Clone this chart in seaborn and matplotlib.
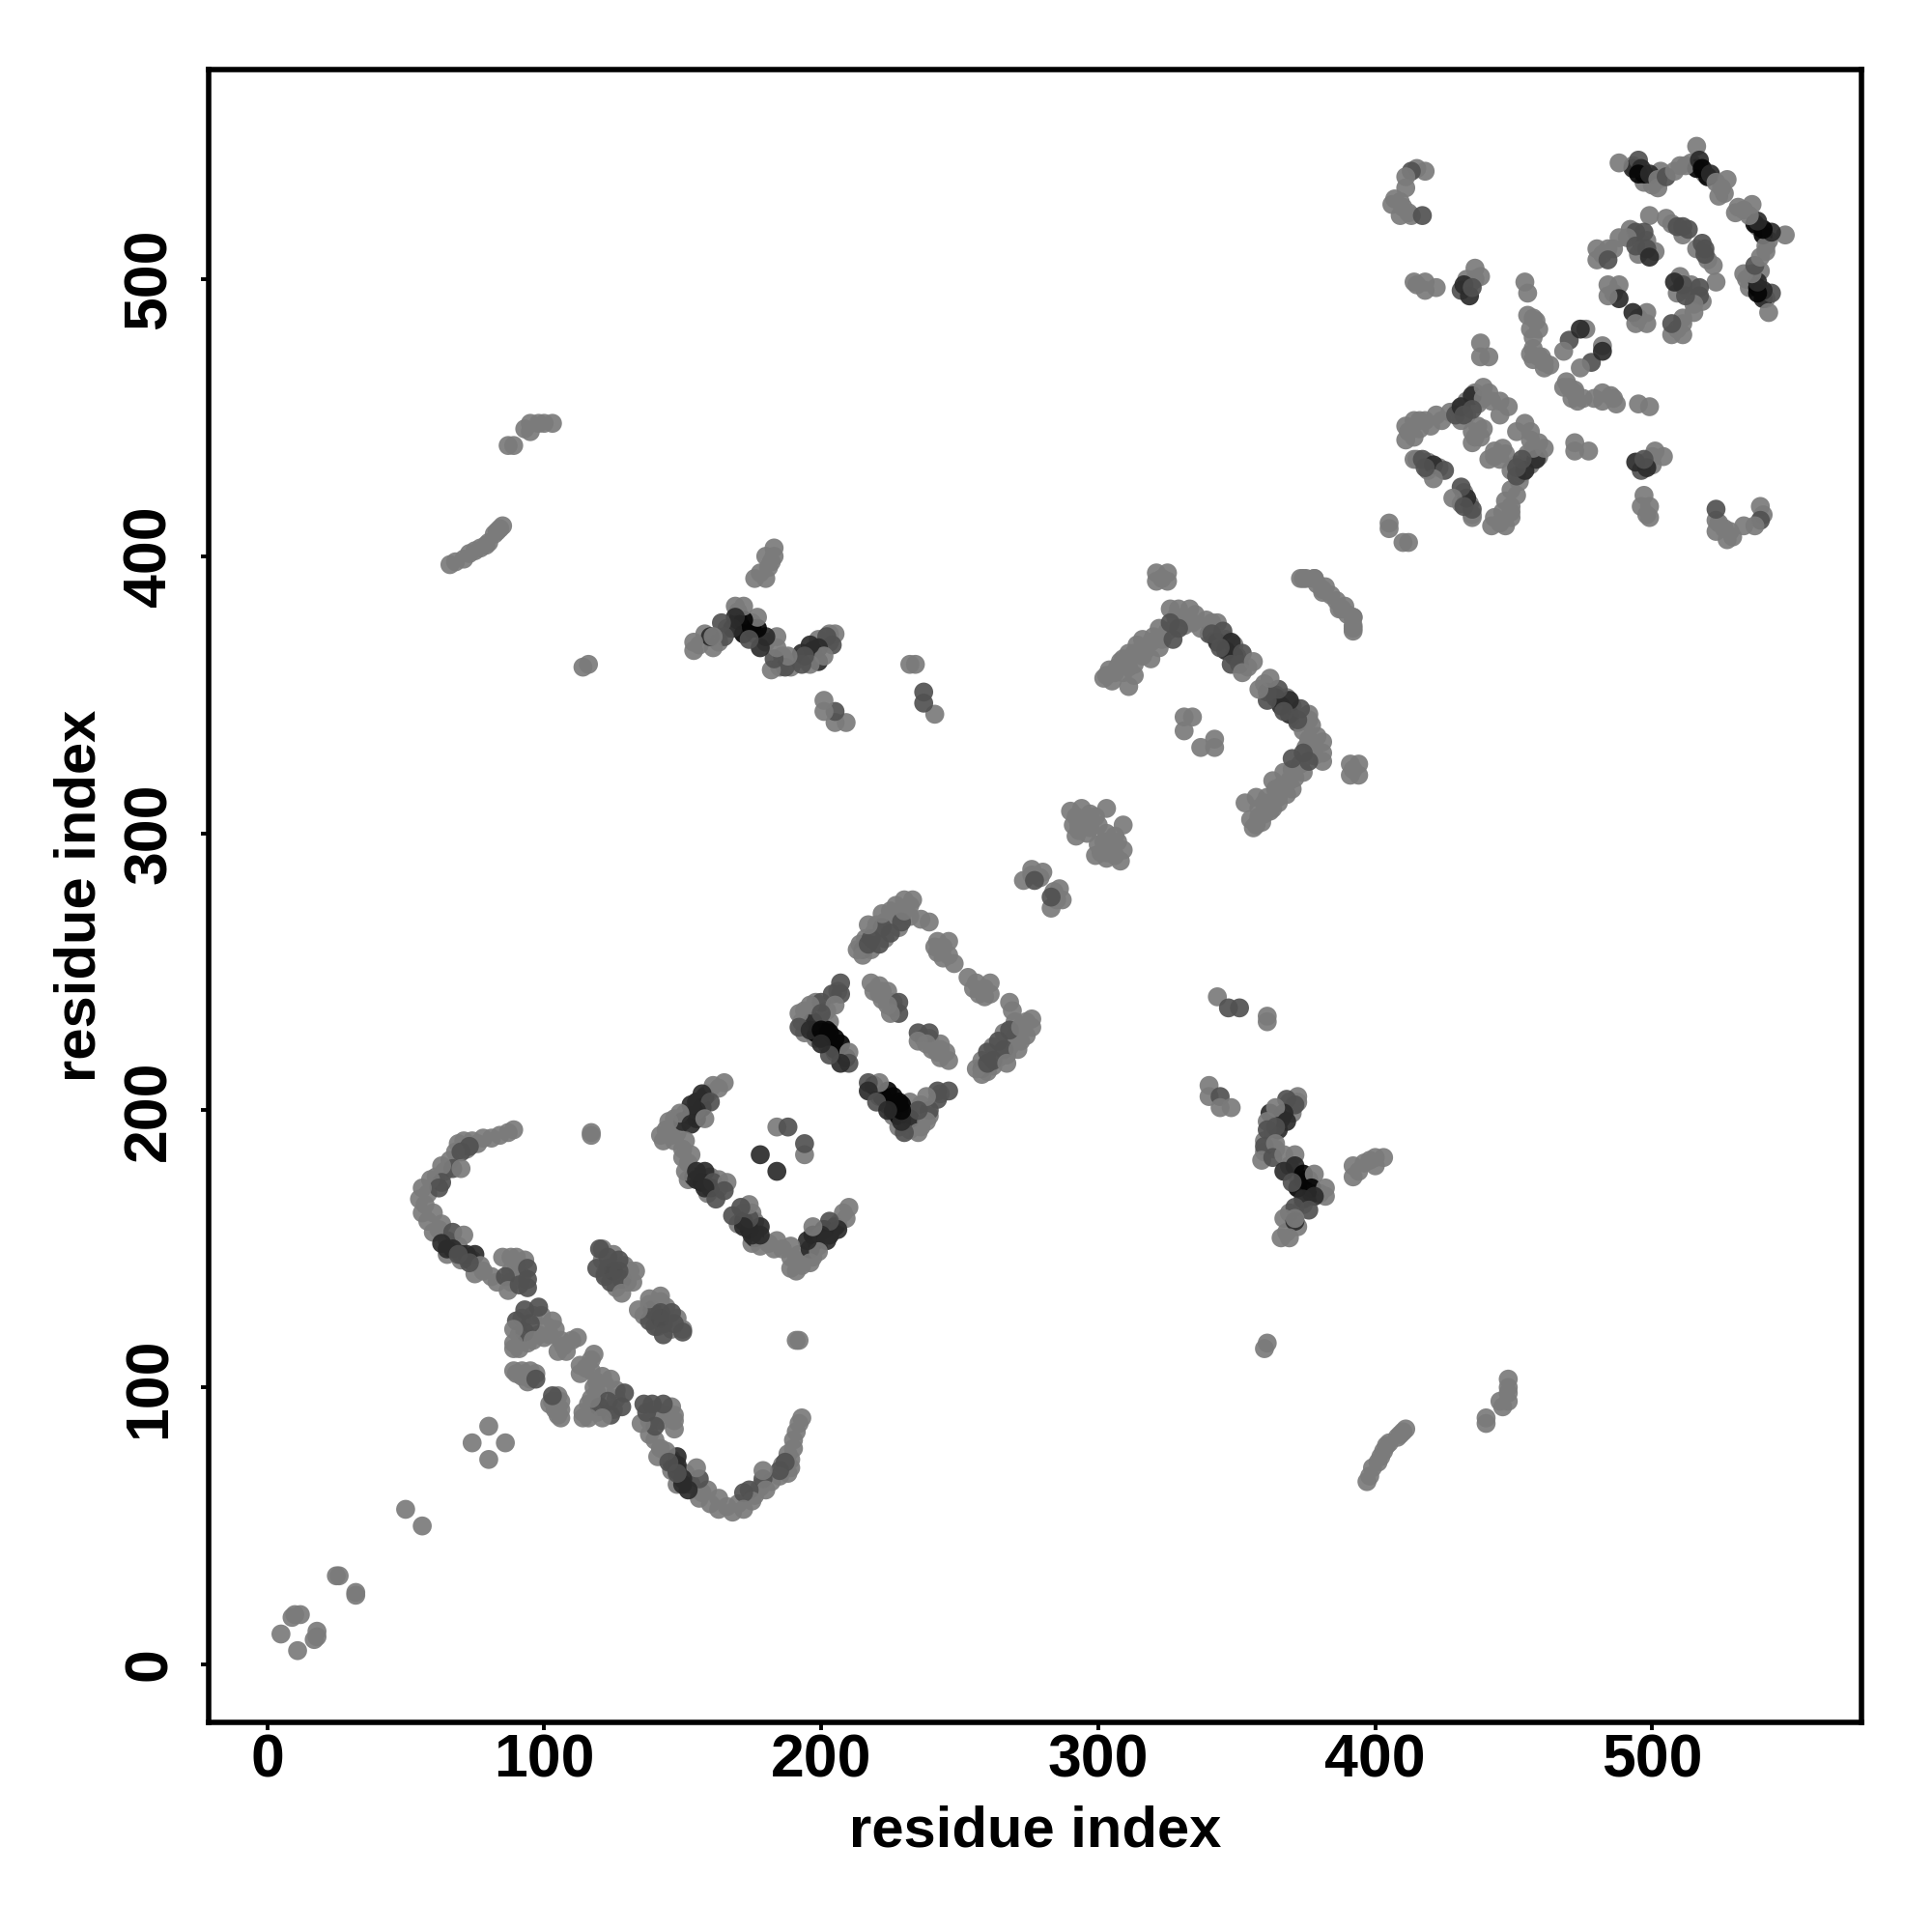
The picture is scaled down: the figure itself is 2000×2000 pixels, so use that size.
import numpy as np
import pandas as pd
import matplotlib
matplotlib.use('Agg')
import matplotlib.pyplot as plt
import seaborn as sns

# contact pairs, i < j only (the map is symmetric)
# n = shade level of the dot, 1 light grey ... 4 nearly black
fill_i = [64,66,72,76,69,61,58,57,58,62,65,69,65,70,74,78,83,88,90,88,92,93,88,121,122,125,130,126,129,131,121,125,129,91,94,99,101,98,100,92,96,108,110,102,91,90,93,97,95,163,159,155,151,147,144,148,143,150,146,152,150,156,160,163,163,159,152]
fill_j = [178,182,186,188,188,176,170,166,160,157,153,151,148,146,146,142,138,142,144,138,140,146,147,146,141,143,138,136,140,142,150,148,144,119,116,126,122,119,118,125,126,113,117,119,114,105,105,105,103,208,206,203,199,197,193,192,189,186,191,181,183,176,176,172,175,170,175]
fill2_i = [214,216,219,218,220,223,227,227,232,232,228,223,241,244,244,193,194,198,202,206,194,198,202,205,209,198,203,195,219,222,226,226,222,276,279,291,293,295,297,300,297,203,203,197,192,189,185,180,176,175,170,166,163,156,158,199,186,68,75,79,83,178,182,100,93]
fill2_j = [260,262,264,258,267,268,270,274,274,270,266,262,259,259,255,232,236,239,236,243,228,226,224,221,219,232,232,233,243,243,239,237,240,285,284,303,301,305,302,303,307,372,369,364,363,360,360,369,372,376,380,374,369,368,372,370,364,398,402,404,409,394,398,448,446]
fill3_i = [304,307,309,313,314,317,320,323,325,328,331,331,335,339,343,346,349,350,354,305,309,313,316,384,390,375,323,412,416,420,424,427,433,436,437,441,442,433,430,416,436,437,415,419,423,419,431]
fill3_j = [359,360,363,365,368,366,371,370,373,378,378,375,379,377,376,370,368,364,360,355,358,357,364,386,379,392,392,445,446,447,449,452,456,459,455,459,456,451,453,449,443,447,435,431,432,434,449]
fill4_i = [407,410,412,415,433,436,434,456,458,456,459,461,415,493,497,500,503,510,514,519,525,526,496,492,495,498,486,482,486,501,497,511,507]
fill4_j = [529,526,524,540,500,500,498,482,485,473,472,470,498,541,535,534,539,541,542,538,533,531,513,518,509,514,511,509,495,510,512,516,520]

# darkest patches, drawn under the main strands
dark_i = [155,158,153,150,154,157,160,198,202,205,197,200,205,209,215,218,222,175,170,172,197,199,193,346,349,340,343,516,520,497,493,65,70,73,157,155,122,125,128]
dark_j = [203,205,198,196,176,174,172,228,229,226,232,226,222,219,258,262,266,374,377,372,366,362,365,366,364,372,369,540,537,538,540,150,148,146,201,197,140,142,139]
dark_n = [3,3,4,3,3,4,3,4,4,4,3,4,4,3,2,2,2,4,3,4,3,3,3,3,3,2,3,4,4,4,3,3,3,3,4,4,2,3,2]

arc_i = [89,87,84,81,78,74,71,73,68,70,67,70,63,63,59,62,56,55,56,60,60,63,67,71,63,67,72,75,75,77,81,85,90,94,86,94,87,91,94,73,69]
arc_j = [193,192,191,190,190,189,189,187,185,185,179,179,180,174,175,172,172,168,163,163,156,159,156,155,152,150,148,148,141,144,140,147,147,143,140,136,135,137,139,145,148]
arc_n = [1,1,1,1,1,1,1,2,1,2,2,1,1,2,1,2,1,1,1,1,1,1,2,1,3,3,3,3,1,1,1,1,1,2,2,2,1,2,2,2,2]

low_i = [5,9,10,12,25,26,50,74,80,89,92,95,92,94,97,98,93,90,95,93,89,89,89,96,103,104,106,112,105,107]
low_j = [11,17,18,18,32,32,56,80,86,106,106,106,104,102,103,129,128,124,123,120,121,116,114,117,124,121,117,118,113,115]
low_n = [1,1,1,1,1,1,1,1,1,1,1,1,1,1,2,2,2,2,2,2,1,1,1,1,1,1,1,1,1,1]

helix_i = [120,123,127,133,119,124,128,132,123,127]
helix_j = [150,147,146,142,143,138,134,138,143,142]
helix_n = [2,2,2,1,2,2,1,1,2,2]

wedge_i = [165,161,157,160,153,155,149,153,145,142,147,151,158,153,151,155,158,155,161,158,166,162,165,178,184,188,117,117]
wedge_j = [210,209,206,203,202,200,199,195,196,191,189,189,197,184,178,178,178,175,174,172,174,168,171,184,194,194,192,191]
wedge_n = [1,1,3,2,3,3,1,3,1,1,1,1,1,1,1,3,3,3,2,3,1,2,2,3,1,2,1,1]

ring_i = [213,215,217,217,221,222,225,225,229,230,233,230,236,239,242,246,242,246,248]
ring_j = [258,256,267,260,260,271,264,272,268,276,276,272,269,268,261,261,257,256,253]
ring_n = [1,1,1,2,2,1,2,1,2,1,1,1,1,1,1,1,1,1,1]

left_i = [207,207,204,200,205,196,200,192,192,196,200,203,207,210,210,207,203,200,218,221,224,221,228,228,225,224]
left_j = [246,242,242,239,238,238,235,235,230,229,229,228,224,221,217,217,220,224,246,245,243,242,239,235,235,238]
left_n = [2,2,2,2,1,1,2,1,2,3,4,4,4,1,2,3,2,3,1,1,1,1,2,2,1,1]

mid_i = [280,276,273,277,292,290,294,292,295,303,299,296,293,241,237,237,234,232,209,205,205,201,201]
mid_j = [286,287,283,283,299,308,309,306,303,309,306,300,303,343,347,351,361,361,340,340,344,344,348]
mid_n = [1,1,1,2,1,1,1,1,1,1,1,1,1,1,2,2,1,1,1,1,2,1,1]

cross_i = [205,204,202,199,201,196,196,194,193,187,188,182,183,184,184,180,178,177,174,177,172,172,169,169,168,165,164,161,160,154,161,154]
cross_j = [372,368,371,367,364,368,361,364,361,360,364,359,363,367,371,371,367,374,370,378,377,382,382,378,374,371,376,367,371,366,371,369]
cross_n = [1,2,2,3,1,3,1,2,2,2,1,1,2,1,1,3,3,4,2,1,4,1,1,3,3,2,2,1,3,1,1,1]

far_i = [180,176,181,180,183,183,114,116,66,71,73,77,80,82,84,85,87,89,95,95,98,103]
far_j = [392,392,396,400,403,400,360,361,397,399,401,403,405,408,410,411,440,440,445,448,448,448]

hook_i = [303,302,306,308,311,311,311,313,316,319,319,322,322,327,326,329,326,333,334,329,337,341,341,345,348,344,352,348,351,356,352]
hook_j = [357,356,358,362,365,360,353,361,370,363,369,367,374,370,381,381,376,381,376,374,374,376,372,373,369,367,365,361,361,362,358]
hook_n = [1,1,1,1,1,1,1,1,1,1,1,1,1,2,1,1,2,1,1,2,1,1,2,2,3,2,2,2,2,1,1]

hook2_i = [321,325,325,321,373,378,381,387,389,392,392,331,334,331,405,405]
hook2_j = [394,394,391,391,392,392,388,381,382,378,374,342,342,337,412,410]

square_i = [411,411,414,414,418,422,429,431,435,439,439,435,432,445,448,445,439,435,435,438,414,417,421,425,421,418,438,438,441]
square_j = [447,442,443,449,449,451,451,454,458,461,457,453,451,456,454,451,446,445,441,443,435,435,433,431,428,432,477,472,472]
square_n = [1,1,1,1,1,1,2,3,3,1,1,2,2,1,1,1,1,1,1,1,1,2,3,2,1,2,1,1,1]

upper_i = [418,413,411,411,406,409,409,413,417,414,418,418,422,436,438,431,432,434,435,454,455,455,457,459,457,457,457,460,463,461,470,468,476,474]
upper_j = [539,539,537,533,527,528,523,523,523,499,499,496,497,504,501,496,498,494,497,499,495,487,486,482,479,475,471,472,469,468,478,474,482,482]
upper_n = [1,2,1,1,1,1,1,1,2,1,1,1,1,1,1,2,3,3,2,1,1,1,1,1,1,1,1,1,1,1,2,1,1,3]

top_i = [488,495,496,495,499,502,502,505,508,512,516,517,518,521,523,527,524,499,494,497,488,491,484,480,480,484,494,498,499,505,509,513,511,484,488,488,484]
top_j = [542,543,540,538,538,536,533,537,539,541,548,543,540,538,535,536,530,523,517,517,515,515,511,511,507,507,512,511,508,522,519,518,519,498,498,493,494]
top_n = [1,2,3,4,3,1,1,2,1,1,1,3,4,3,1,1,1,1,2,2,1,1,1,1,1,2,2,2,3,1,2,2,2,1,1,3,1]

tick_vals = [0, 100, 200, 300, 400, 500]
shades = {1: '#7b7b7b', 2: '#515151', 3: '#2b2b2b', 4: '#050505'}

groups = [(fill_i, fill_j, [1]*len(fill_i)), (fill2_i, fill2_j, [1]*len(fill2_i)),
          (fill3_i, fill3_j, [1]*len(fill3_i)), (fill4_i, fill4_j, [1]*len(fill4_i)),
          (dark_i, dark_j, dark_n),
          (arc_i, arc_j, arc_n), (low_i, low_j, low_n), (helix_i, helix_j, helix_n),
          (wedge_i, wedge_j, wedge_n), (ring_i, ring_j, ring_n), (left_i, left_j, left_n),
          (mid_i, mid_j, mid_n), (cross_i, cross_j, cross_n), (far_i, far_j, [1]*len(far_i)),
          (hook_i, hook_j, hook_n), (hook2_i, hook2_j, [1]*len(hook2_i)), (square_i, square_j, square_n),
          (upper_i, upper_j, upper_n), (top_i, top_j, top_n)]

df = pd.concat([pd.DataFrame({'i': g[0], 'j': g[1], 'n': g[2]}) for g in groups], ignore_index=True)
# contacts go both ways
both = pd.concat([df, df.rename(columns={'i': 'j', 'j': 'i'})], ignore_index=True)

sns.set_style('white')
plt.rcParams['font.family'] = ['Liberation Sans', 'DejaVu Sans']
plt.rcParams['font.weight'] = 'bold'

fig = plt.figure(figsize=(10, 10), dpi=200)
ax = fig.add_axes([216/2000, 1 - 1783/2000, (1927 - 216)/2000, (1783 - 72)/2000])

sns.scatterplot(data=both, x='i', y='j', hue='n', palette=shades, alpha=0.92, s=50, linewidth=0, ax=ax, legend=False)

ax.set_xlim(-21.1, 575.5)
ax.set_ylim(-20.9, 575.7)
ax.set_xticks(tick_vals)
ax.set_yticks(tick_vals)
ax.set_xticklabels([str(v) for v in tick_vals], fontsize=22.5, fontweight='bold')
ax.set_yticklabels([str(v) for v in tick_vals], fontsize=22.5, fontweight='bold', rotation=90, va='center')
ax.tick_params(axis='x', length=3, width=1.4, color='black', labelcolor='black', bottom=True, pad=0.8)
ax.tick_params(axis='y', length=3, width=1.4, color='black', labelcolor='black', left=True, pad=8.3)
ax.set_xlabel('residue index', fontsize=21.5, fontweight='bold', labelpad=5.8, color='black')
ax.set_ylabel('residue index', fontsize=21.5, fontweight='bold', labelpad=5.6, color='black')
for s in ax.spines.values():
    s.set_linewidth(2.0)
    s.set_color('black')
    s.set_visible(True)

fig.savefig('out.png', dpi=200, facecolor='white')
